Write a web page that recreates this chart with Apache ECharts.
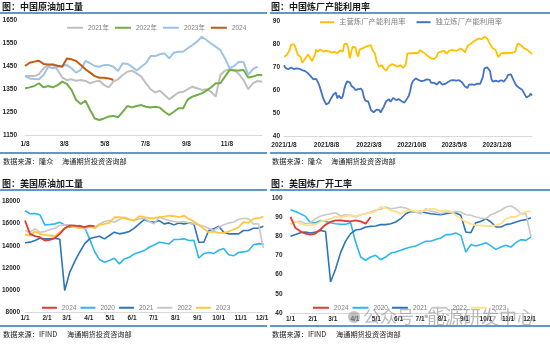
<!DOCTYPE html>
<html><head><meta charset="utf-8">
<script src="https://cdn.jsdelivr.net/npm/echarts/dist/echarts.min.js"></script>
<style>html,body{margin:0;padding:0;background:#fff}#c{width:550px;height:345px}</style>
</head><body><div id="c"></div>
<script>
// ---------- Panel 1: 中国原油加工量 (weekly, from 1/8) ----------
const p1Ticks = ['1/8','3/8','5/8','7/8','9/8','11/8'];
const p1Names = ['2021年','2022年','2023年','2024'];
const p1Y2021 = [1406,1406,1406,1415,1440,1454,1454,1433,1400,1389,1392,1386,1389,1385,1375,1382,1386,1367,1357,1382,1392,1411,1425,1430,1418,1404,1375,1349,1335,1343,1324,1305,1320,1335,1338,1349,1360,1353,1346,1349,1338,1317,1411,1430,1436,1433,1415,1389,1349,1375,1385,1382];
const p1Y2022 = [1353,1357,1363,1375,1357,1363,1357,1367,1382,1372,1346,1302,1285,1299,1259,1222,1215,1222,1230,1233,1227,1251,1276,1270,1276,1280,1273,1270,1273,1269,1251,1237,1251,1266,1266,1305,1317,1324,1331,1343,1357,1375,1375,1404,1433,1430,1430,1433,1400,1404,1411,1411];
const p1Y2023 = [1406,1396,1393,1392,1411,1447,1440,1447,1451,1454,1440,1421,1433,1472,1462,1450,1447,1454,1454,1447,1428,1462,1459,1447,1430,1447,1462,1493,1493,1501,1505,1483,1508,1512,1512,1527,1541,1556,1577,1563,1548,1534,1519,1483,1440,1451,1469,1466,1411,1436,1447];
const p1Y2024 = [1450,1464,1469,1473,1459,1457,1457,1451,1447,1483,1479,1472,1454,1436,1421,1406,1399,1399,1396,1389];

// ---------- Panel 2: 中国炼厂产能利用率 (weekly, from 2021/1/8) ----------
const p2Ticks = ['2021/1/8','2021/8/8','2022/3/8','2022/10/8','2023/5/8','2023/12/8'];
const p2Names = ['主营炼厂产能利用率','独立炼厂产能利用率'];
const p2Main = [74.7,75.2,75.4,75.8,77.5,79.8,80.3,80.2,79.2,77,
75.4,74.7,74.5,72,72.6,73.8,74.7,75.7,75.2,74,
72.6,73,75.5,77.9,76.8,77,77.9,77.5,76.9,77,
77.2,77.3,77,76.5,76.6,76.9,76.8,76.5,76.2,76.5,
77.4,77.2,76.9,80.2,80.8,80.4,78,74,76.8,79,
78.9,78.8,76,74.7,77.9,78.1,78.3,78.6,79,79.2,
79.4,79.6,79.8,77.8,78.3,76,72.8,71.5,70.3,70.8,
71,69.6,69.2,68.6,69.7,70.6,71,71.4,71.8,71,
70.6,70.3,70.6,71,70.5,69.8,70.5,71.5,76,76.2,
76.2,76.2,76.2,76.2,76.3,76.4,76.4,77.5,77.9,76.8,
76.2,75.8,75.4,74.8,74.2,74,73.8,73.7,74.2,74.7,
76.5,76.9,76.9,76.9,77.3,77.6,76,75.6,77.3,77.9,
77.7,77.6,77.3,76.9,77.5,78.2,78.3,78,77.5,76.5,
77.8,79.4,79.8,80.2,80.5,81.2,81.7,82,82.5,82.7,
82.5,82.3,83,83.4,83.2,82.7,81.5,80.2,79.4,78.4,
77.9,77.6,77.3,74.5,74.5,76.2,76.2,76.2,76.2,76.3,
76.4,76.4,76.4,76.4,76.6,76.9,79,80.5,80.2,79.8,
79.2,78.5,78.3,77.9,77.6,77,76.4,75.8];
const p2Indep = [71,69.8,69.5,69.2,69.5,70,70.3,69.3,69,69.6,
70,69.4,68.9,68.8,68.6,68.4,68.2,67.5,66.7,66.2,
65.7,64.8,65,65,64.8,62.5,60.5,58.5,56.5,55.2,
53.8,53.2,54.5,55.8,56.8,58,58.7,59,56.5,57.6,
57.4,56.4,57.5,60.5,62.5,63.9,64.1,63.5,62,62.2,
61,60.1,60.1,60.5,61.3,60.7,59.8,57,55.5,55.5,
55.2,53.5,51.4,50.8,50.4,50.3,51.5,52,51.3,50.2,
51.5,52.5,54,55.3,55.8,56.1,55,54.4,56.7,56.5,
55.7,55.8,56.1,55.6,55.2,54.8,54.6,55,56.5,57.5,
59.6,62.5,64,64.6,65.2,64.8,64.5,64.2,64,63.8,
64.2,64.5,64.8,65.2,64.6,63.2,63,63.3,63,62.5,
62.8,63.8,63.5,62.5,62.4,62.8,63,63.6,64.2,64.3,
64.5,64.4,64.3,64.2,64.3,64.4,64.5,63.5,62.7,61.8,
61,61,62.5,63.2,62.6,62.3,62.4,62.6,62.9,63.3,
62.8,62.3,66,69.6,69.9,70,69.3,68.5,65,63.8,
64.1,64.2,64,63.8,64.1,64.4,64.3,63.8,64.2,65.5,
66.7,67.2,67,65.5,64.2,63,62,61.3,61,60.8,
60.2,59.5,58,56.9,56.1,57.5,58.5,57.8];

// ---------- Panels 3/4: 美国 (weekly, from 1/1) ----------
const usTicks = ['1/1','2/1','3/1','4/1','5/1','6/1','7/1','8/1','9/1','10/1','11/1','12/1'];
const usNames = ['2024','2020','2021','2022','2023'];
const p3Y2020 = [17160,16890,16920,16800,15890,15920,15980,16130,15890,15680,15770,15830,15680,14630,13490,12760,12520,12670,12880,12370,12820,12970,13270,13420,13570,13870,14080,14320,14260,14170,14570,14570,14630,14480,14500,12900,13300,13400,13300,13600,13750,13200,13100,13400,13450,13550,14100,14200,14150];
const p3Y2021 = [14270,14330,14480,14690,14630,14630,14690,14600,9960,11610,12580,13420,14180,14630,14780,14870,14630,14930,15230,15080,15170,15290,15590,15980,16370,16190,16130,16280,15980,16070,15890,16070,15980,16070,15980,14320,14320,15380,15530,15770,15230,15080,15080,15080,15380,15380,15590,15590,15770];
const p3Y2022 = [15380,15230,15530,15230,15290,15470,15590,15830,15890,15890,15830,15680,15530,15680,15680,15980,16190,16280,16130,16370,16580,16430,16280,16430,16490,16190,15980,16580,16430,16280,16190,16130,16190,16070,15980,15890,15740,15590,15380,15680,15890,16070,16130,16370,16490,16430,15980,15980,13800];
const p3Y2023 = [15000,14930,15290,15080,14990,14930,14870,15230,15530,15830,15680,15590,15680,15770,15590,15890,15980,16070,16580,16580,16490,16370,16280,16670,16580,16490,16490,16580,16640,16730,16670,16580,16730,16430,16190,15890,15530,15230,15290,15170,15170,15290,15470,15680,16130,16070,16430,16490,16640];
const p3Y2024 = [16280,15080,14870,14780,14480,14540,14690,15080,15590,15830,15830,15770,15680,15830,15770];

const p4Y2020 = [93.9,93,91.8,90.4,87.1,87.1,88.3,87.8,87.1,86.6,86.3,86.3,87.1,77,69.2,67.5,69.2,70.1,67.8,69.2,71.3,71.8,72.7,73.6,74.4,75,76.2,77.4,77.4,78.4,79.1,80.9,80.9,81.7,80.5,71.8,75.7,75,75.7,76.7,75,73.2,74.4,75.3,74.4,76.7,78.3,77.9,79.7];
const p4Y2021 = [80,80.9,81.9,82.3,81.7,82.3,83.1,82.5,56.2,63,71.5,77.5,81.4,83.3,83.7,84.9,85.2,85.4,86.1,86.1,86.6,87.5,89.2,91.8,93,92.7,93,92.3,91.8,91.5,91.3,91.8,92.2,92.2,91,82.3,81.9,87.1,87.8,89.2,87.5,84.9,84.9,86.1,86.6,87.5,88.3,88.7,89.7];
const p4Y2022 = [86.6,87.5,87.8,86.6,87.1,89.2,90.6,91.3,91.8,92.3,90.6,91.3,91,90.1,91.3,91.8,92.7,93.6,94.1,95.3,94.4,94.8,95.3,94.8,93.6,92.7,91.8,94.4,93,92.7,91.8,92.7,92.3,93,92.7,91.3,91,90.1,89.6,89.2,91.3,92.3,93.6,95.3,95.8,94.4,91.8,91.8,79.7];
const p4Y2023 = [86.1,87.8,86.6,85.7,85.7,86.1,87.8,88.3,89.2,90.1,89.6,90.6,91,90.6,91.3,91.8,92.3,93,95.3,94.8,93.6,93,91.8,93,93.6,93,93,93.6,94.4,94.1,93,93.6,93,91,89.2,87.5,86.6,85.7,85.7,85.4,85.4,85.7,86.6,89.2,90.1,90.1,91.8,93,93];
const p4Y2024 = [90.1,84.3,82.6,81.4,80.9,81.4,83.7,86.1,87.5,88.3,88.3,88,87.8,88.3,87.8,86.6,90.1];

// ---------- helpers ----------
function dayCats(y, m, d, n, withYear) {
  const out = [];
  for (let i = 0; i < n; i++) {
    const dt = new Date(y, m - 1, d + i);
    out.push((withYear ? dt.getFullYear() + '/' : '') + (dt.getMonth() + 1) + '/' + dt.getDate());
  }
  return out;
}
const weekly = vals => vals.map((v, i) => [i * 7, v]);

const NUM = "'Liberation Sans', Arial, 'Noto Sans CJK SC', sans-serif";
const CJK = "'Noto Sans CJK SC', 'Noto Sans', sans-serif";
const BLUE = '#2E75B6';

const cat1 = dayCats(2023, 1, 8, 358, false);
const cat2 = dayCats(2021, 1, 8, 1240, true);
const cat3 = dayCats(2023, 1, 1, 339, false);

function xAxis(gi, cats, ticks, margin) {
  return {
    type: 'category', gridIndex: gi, data: cats, boundaryGap: false,
    axisLine: {show: true, lineStyle: {color: '#D9D9D9', width: 1}},
    axisTick: {show: false}, splitLine: {show: false},
    axisLabel: {
      interval: (i, v) => ticks.indexOf(v) >= 0,
      margin: margin, fontSize: 6.5, fontWeight: 'bold', color: '#262626', fontFamily: NUM
    }
  };
}
function yAxis(gi, min, max, step, margin) {
  return {
    type: 'value', gridIndex: gi, min: min, max: max, interval: step,
    axisLine: {show: false}, axisTick: {show: false}, splitLine: {show: false},
    axisLabel: {margin: margin, fontSize: 6.5, fontWeight: 'bold', color: '#262626', fontFamily: NUM,
      formatter: v => String(v)}
  };
}
function line(name, gi, vals, color, width, z) {
  return {
    type: 'line', name: name, xAxisIndex: gi, yAxisIndex: gi, data: weekly(vals),
    showSymbol: false, symbol: 'none', smooth: false, z: z || 2,
    lineStyle: {color: color, width: width || 2}, itemStyle: {color: color},
    emphasis: {disabled: true}, animation: false
  };
}
function legend(left, top, names, colors, itemWidth, gap, fs) {
  return {
    left: left, top: top, orient: 'horizontal', icon: 'rect',
    itemWidth: itemWidth, itemHeight: 2, itemGap: gap, padding: 0,
    selectedMode: false,
    textStyle: {fontSize: fs, color: '#7F7F7F', fontFamily: NUM},
    data: names.map((n, i) => ({name: n, itemStyle: {color: colors[i]}}))
  };
}

const c1 = ['#BFBFBF', '#70AD47', '#9DC3E6', '#C55A11'];
const c2 = ['#FFC000', '#4472C4'];
const c3 = {'2024': '#E03A32', '2020': '#2DB7F0', '2021': '#2E75B6', '2022': '#C8C8C8', '2023': '#FFC83A'};
const c4 = {'2024': '#E03A32', '2020': '#2DB7F0', '2021': '#2E75B6', '2022': '#C8C8C8', '2023': '#FFE08C'};

function txt(x, y, s, size, weight, color, font, opacity) {
  return {type: 'text', x: x, y: y, silent: true, z: 100,
    style: {text: s, fontSize: size, fontWeight: weight || 'normal', fill: color || '#1a1a1a',
      fontFamily: font || CJK, verticalAlign: 'middle', align: 'left', opacity: opacity == null ? 1 : opacity}};
}
function hline(x1, x2, y, w) {
  return {type: 'line', silent: true, z: 100, shape: {x1: x1, y1: y, x2: x2, y2: y},
    style: {stroke: BLUE, lineWidth: w || 1.5}};
}

const option = {
  backgroundColor: '#ffffff',
  animation: false,
  grid: [
    {left: 25, top: 20, width: 237.2, height: 115, outerBoundsMode: 'none', containLabel: false},
    {left: 284, top: 21.7, width: 248, height: 114.3, outerBoundsMode: 'none', containLabel: false},
    {left: 25, top: 201.5, width: 239.8, height: 110.8, outerBoundsMode: 'none', containLabel: false},
    {left: 290.5, top: 198, width: 241.9, height: 115, outerBoundsMode: 'none', containLabel: false}
  ],
  xAxis: [
    xAxis(0, cat1, p1Ticks, 6),
    xAxis(1, cat2, p2Ticks, 6),
    xAxis(2, cat3, usTicks, 3),
    xAxis(3, cat3, usTicks, 3)
  ],
  yAxis: [
    yAxis(0, 1150, 1650, 100, 8),
    yAxis(1, 40, 90, 10, 4),
    yAxis(2, 8000, 18000, 2000, 5),
    yAxis(3, 40, 100, 10, 8)
  ],
  legend: [
    legend(67, 24.5, p1Names, c1, 16, 6, 6.5),
    legend(320, 18.5, p2Names, c2, 14, 11, 7.4),
    legend(42, 304.5, usNames, usNames.map(n => c3[n]), 15, 4, 6.5),
    legend(313, 304.5, usNames, usNames.map(n => c4[n]), 16, 4, 6.5)
  ],
  series: [
    line(p1Names[0], 0, p1Y2021, c1[0]),
    line(p1Names[1], 0, p1Y2022, c1[1]),
    line(p1Names[2], 0, p1Y2023, c1[2]),
    line(p1Names[3], 0, p1Y2024, c1[3], 2, 3),
    line(p2Names[0], 1, p2Main, c2[0], 1.8),
    line(p2Names[1], 1, p2Indep, c2[1], 1.8),
    line('2020', 2, p3Y2020, c3['2020'], 1.6),
    line('2021', 2, p3Y2021, c3['2021'], 1.6),
    line('2022', 2, p3Y2022, c3['2022'], 1.6),
    line('2023', 2, p3Y2023, c3['2023'], 1.8),
    line('2024', 2, p3Y2024, c3['2024'], 1.8, 3),
    line('2020', 3, p4Y2020, c4['2020'], 1.6),
    line('2021', 3, p4Y2021, c4['2021'], 1.6),
    line('2022', 3, p4Y2022, c4['2022'], 1.6),
    line('2023', 3, p4Y2023, c4['2023'], 1.8),
    line('2024', 3, p4Y2024, c4['2024'], 1.8, 3)
  ],
  graphic: [
    txt(2, 7, '图：中国原油加工量', 9, 'bold'),
    txt(271, 7, '图：中国炼厂产能利用率', 9, 'bold'),
    txt(2, 184, '图：美国原油加工量', 9, 'bold'),
    txt(271, 184, '图：美国炼厂开工率', 9, 'bold'),
    hline(0, 267, 13), hline(270, 550, 13),
    hline(0, 267, 153), hline(270, 550, 153),
    hline(0, 267, 190), hline(270, 550, 190),
    hline(0, 267, 326), hline(270, 550, 326),
    txt(3, 161, '数据来源：隆众', 7.2),
    txt(62, 161, '海通期货投资咨询部', 7.2),
    txt(272, 161, '数据来源：隆众', 7.2),
    txt(331, 161, '海通期货投资咨询部', 7.2),
    txt(3, 334, '数据来源：IFIND', 7.2),
    txt(67, 334, '海通期货投资咨询部', 7.2),
    txt(272, 334, '数据来源：IFIND', 7.2),
    txt(336, 334, '海通期货投资咨询部', 7.2),
    {type: 'circle', silent: true, z: 99, shape: {cx: 354, cy: 317, r: 6}, style: {fill: '#9a9a9a', opacity: 0.6}},
    txt(363, 317, '公众号 ·', 17, 'normal', '#8c8c8c', CJK, 0.6),
    txt(427, 317, '能源研发中心', 18, 'normal', '#8c8c8c', CJK, 0.6)
  ]
};
const chart = echarts.init(document.getElementById('c'), null, {renderer: 'canvas', width: 550, height: 345});
chart.setOption(option);
</script>
</body></html>
